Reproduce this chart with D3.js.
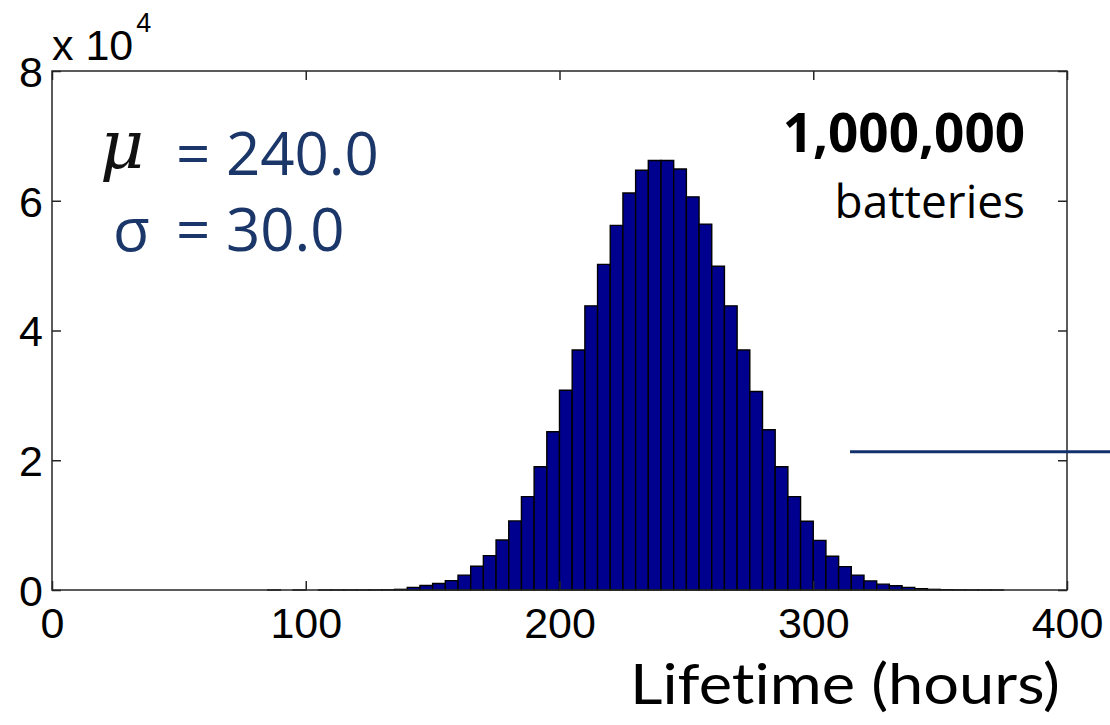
<!DOCTYPE html>
<html>
<head>
<meta charset="utf-8">
<script src="https://cdn.jsdelivr.net/npm/d3@7"></script>
<style>
  html, body { margin: 0; padding: 0; background: #fff; }
  svg { display: block; }
  text { font-variant-ligatures: none; font-feature-settings: "liga" 0, "clig" 0; }
  .tick text { font-family: "Liberation Sans", Arial, sans-serif; font-size: 43px; fill: #000; }
  .tick line { stroke: #262626; stroke-width: 1.5; }
</style>
</head>
<body>
<svg id="chart" width="1110" height="725"></svg>
<script>
// Histogram of simulated battery lifetimes: lower bin edge (hours) and count (x 10^4) per 5-hour bin
const binStart = [
  85, 95, 105, 110, 115, 120, 125, 130, 135,
  140, 145, 150, 155, 160, 165, 170, 175, 180, 185,
  190, 195, 200, 205, 210, 215, 220, 225, 230, 235,
  240, 245, 250, 255, 260, 265, 270, 275, 280, 285,
  290, 295, 300, 305, 310, 315, 320, 325, 330, 335,
  340, 345, 350, 355, 360, 365, 370, 375
];
const binCount = [
  0.0001, 0.0001, 0.0001, 0.0001, 0.0002, 0.0004, 0.001, 0.003, 0.01,
  0.04, 0.07, 0.10, 0.145, 0.23, 0.365, 0.53, 0.77, 1.065, 1.44,
  1.90, 2.44, 3.08, 3.70, 4.38, 5.02, 5.62, 6.12, 6.47, 6.62,
  6.62, 6.49, 6.06, 5.64, 4.99, 4.38, 3.70, 3.06, 2.47, 1.90,
  1.44, 1.06, 0.765, 0.52, 0.36, 0.23, 0.14, 0.09, 0.065, 0.04,
  0.02, 0.01, 0.005, 0.002, 0.001, 0.0005, 0.0001
];
const binWidth = 5;

const xTicks = [0, 100, 200, 300, 400];
const yTicks = [0, 2, 4, 6, 8];

const meanLabel = "240.0";
const sdLabel = "30.0";
const sampleSize = "1,000,000";

const svg = d3.select("#chart");
const plot = { left: 52, right: 1067, top: 71, bottom: 590 };

const x = d3.scaleLinear().domain([0, 400]).range([plot.left, plot.right]);
const y = d3.scaleLinear().domain([0, 8]).range([plot.bottom, plot.top]);

const bins = binStart.map((s, i) => ({ x0: s, x1: s + binWidth, v: binCount[i] }));

// Bars as closed paths so that empty bins still show their outline on the baseline
svg.append("g")
  .selectAll("path")
  .data(bins)
  .join("path")
  .attr("d", d => {
    const x0 = x(d.x0), x1 = x(d.x1), y0 = y(0), y1 = y(d.v);
    return `M${x0},${y0}V${y1}H${x1}V${y0}Z`;
  })
  .attr("fill", "#00008f")
  .attr("stroke", "#000")
  .attr("stroke-width", 1.4)
  .attr("stroke-linejoin", "miter");

// Axes: ticks point inward on all four sides
const tickLen = 9;
svg.append("g")
  .attr("transform", `translate(0,${plot.bottom})`)
  .call(d3.axisBottom(x).tickValues(xTicks).tickSizeInner(-tickLen).tickSizeOuter(0).tickPadding(17).tickFormat(d3.format("d")))
  .call(g => g.select(".domain").remove());
svg.append("g")
  .attr("transform", `translate(0,${plot.top})`)
  .call(d3.axisTop(x).tickValues(xTicks).tickSizeInner(-tickLen).tickSizeOuter(0).tickFormat(""))
  .call(g => g.select(".domain").remove());
svg.append("g")
  .attr("transform", `translate(${plot.left},0)`)
  .call(d3.axisLeft(y).tickValues(yTicks).tickSizeInner(-tickLen).tickSizeOuter(0).tickPadding(9).tickFormat(d3.format("d")))
  .call(g => g.select(".domain").remove())
  .call(g => g.selectAll(".tick text").attr("dy", "0.36em"));
svg.append("g")
  .attr("transform", `translate(${plot.right},0)`)
  .call(d3.axisRight(y).tickValues(yTicks).tickSizeInner(-tickLen).tickSizeOuter(0).tickFormat(""))
  .call(g => g.select(".domain").remove());

// Axes box
svg.append("rect")
  .attr("x", plot.left).attr("y", plot.top)
  .attr("width", plot.right - plot.left).attr("height", plot.bottom - plot.top)
  .attr("fill", "none").attr("stroke", "#262626").attr("stroke-width", 1.5);

// Exponent label for the y axis
const expo = svg.append("text")
  .attr("x", plot.left).attr("y", 60)
  .attr("font-family", "'Liberation Sans', Arial, sans-serif")
  .attr("font-size", 43).attr("fill", "#000");
expo.append("tspan").text("x 10");
expo.append("tspan").attr("font-size", 27).attr("dy", -28).attr("dx", 3).text("4");

// Mean and standard deviation
const navy = "#1b3668";
svg.append("text")
  .attr("x", 100).attr("y", 168)
  .attr("font-family", "'DejaVu Serif', 'Liberation Serif', serif")
  .attr("font-style", "italic")
  .attr("font-size", 68).attr("fill", "#111")
  .text("μ");
svg.append("text")
  .attr("x", 176).attr("y", 175)
  .attr("font-family", "'Open Sans', sans-serif")
  .attr("font-size", 60).attr("fill", navy)
  .text("= " + meanLabel);
svg.append("text")
  .attr("x", 113).attr("y", 251)
  .attr("font-family", "'Open Sans', sans-serif")
  .attr("font-size", 60).attr("fill", navy)
  .text("σ");
svg.append("text")
  .attr("x", 176).attr("y", 251)
  .attr("font-family", "'Open Sans', sans-serif")
  .attr("font-size", 60).attr("fill", navy)
  .text("= " + sdLabel);

// Sample size
svg.append("text")
  .attr("x", 1025).attr("y", 152)
  .attr("text-anchor", "end")
  .attr("font-family", "'Open Sans', sans-serif")
  .attr("font-weight", "bold")
  .attr("font-size", 53).attr("fill", "#000")
  .text(sampleSize);
svg.append("text")
  .attr("x", 1025).attr("y", 218)
  .attr("text-anchor", "end")
  .attr("font-family", "'Open Sans', sans-serif")
  .attr("font-size", 46).attr("fill", "#000")
  .text("batteries");

// Pointer line leading off the right edge
const pointer = { from: 314.5, to: 425, level: 2.13 };
svg.append("line")
  .attr("x1", x(pointer.from)).attr("x2", x(pointer.to))
  .attr("y1", y(pointer.level)).attr("y2", y(pointer.level))
  .attr("stroke", "#12306b").attr("stroke-width", 3);

// X axis title
svg.append("text")
  .attr("x", 630).attr("y", 704)
  .attr("font-family", "Lato, 'Open Sans', sans-serif")
  .attr("font-size", 56).attr("fill", "#000")
  .attr("textLength", 430).attr("lengthAdjust", "spacingAndGlyphs")
  .text("Lifetime (hours)");
</script>
</body>
</html>
